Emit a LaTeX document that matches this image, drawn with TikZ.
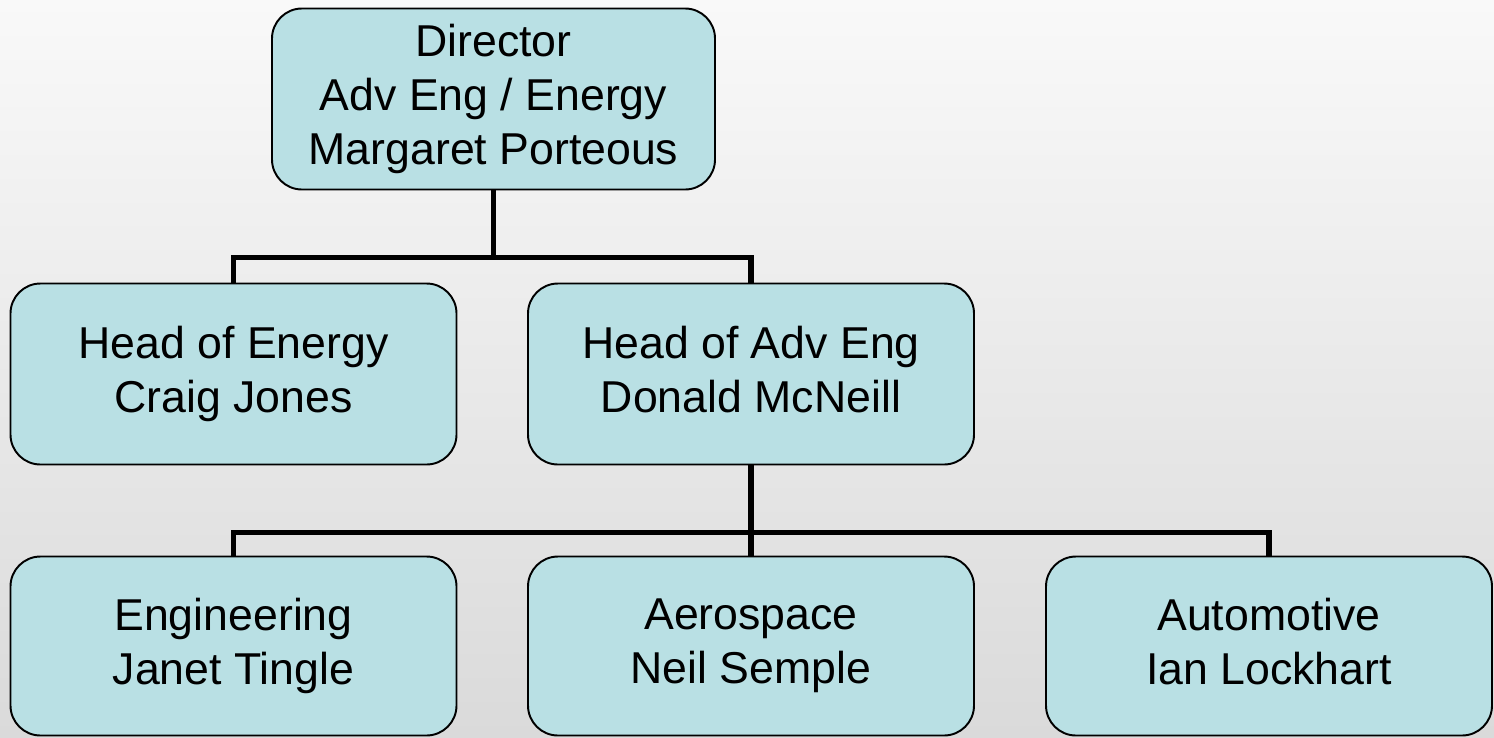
\documentclass[tikz,border=0pt]{standalone}
\usepackage{fontspec}
\setmainfont{Liberation Sans}
\usepackage{tikz}
\usetikzlibrary{positioning, calc}
\definecolor{boxfill}{RGB}{185,224,228}
\definecolor{bgtop}{RGB}{249,249,249}
\definecolor{bgbot}{RGB}{218,218,218}
\tikzset{
    orgbox/.style={
        rectangle,
        rounded corners=0.6cm,
        minimum width=8.92cm,
        minimum height=3.62cm,
        align=center, % two or three lines per box
        draw=black,
        line width=1.1pt,
        fill=boxfill,
        font=\fontsize{25.4pt}{30.6pt}\selectfont,
        execute at begin node={\rule{0pt}{0.92em}}, % same height for every box text
        execute at end node={\rule[-0.2em]{0pt}{0.2em}}
    },
    link/.style={
        line width=3pt,
        draw=black
    }
}

\begin{document}
\begin{tikzpicture}

% background: light grey wash, also fixes the page size
\shade[top color=bgtop, bottom color=bgbot] (0,0) rectangle (29.88,-14.74);

% top level
\node[orgbox, minimum width=8.86cm] (director) at (9.87,-1.98) {Director\\Adv Eng / Energy\\Margaret Porteous};

% second level
\node[orgbox] (energy) at (4.67,-7.48) {Head of Energy\\Craig Jones};
\node[orgbox] (adveng) at (15.02,-7.48) {Head of Adv Eng\\Donald McNeill};

% third level
\node[orgbox, minimum height=3.58cm] (engineering) at (4.67,-12.92) {Engineering\\Janet Tingle};
\node[orgbox, minimum height=3.58cm] (aerospace) at (15.02,-12.92) {Aerospace\\Neil Semple};
\node[orgbox, minimum height=3.58cm] (automotive) at (25.38,-12.92) {Automotive\\Ian Lockhart};

% connectors
\draw[link] (director.south) -- ++(0,-1.34) coordinate (bar1);
\draw[link] (energy.north) |- (bar1) -| (adveng.north);

\draw[link] (adveng.south) -- ++(0,-1.34) coordinate (bar2);
\draw[link] (engineering.north) |- (bar2) -| (automotive.north);
\draw[link] (bar2) -- (aerospace.north);

\end{tikzpicture}
\end{document}
